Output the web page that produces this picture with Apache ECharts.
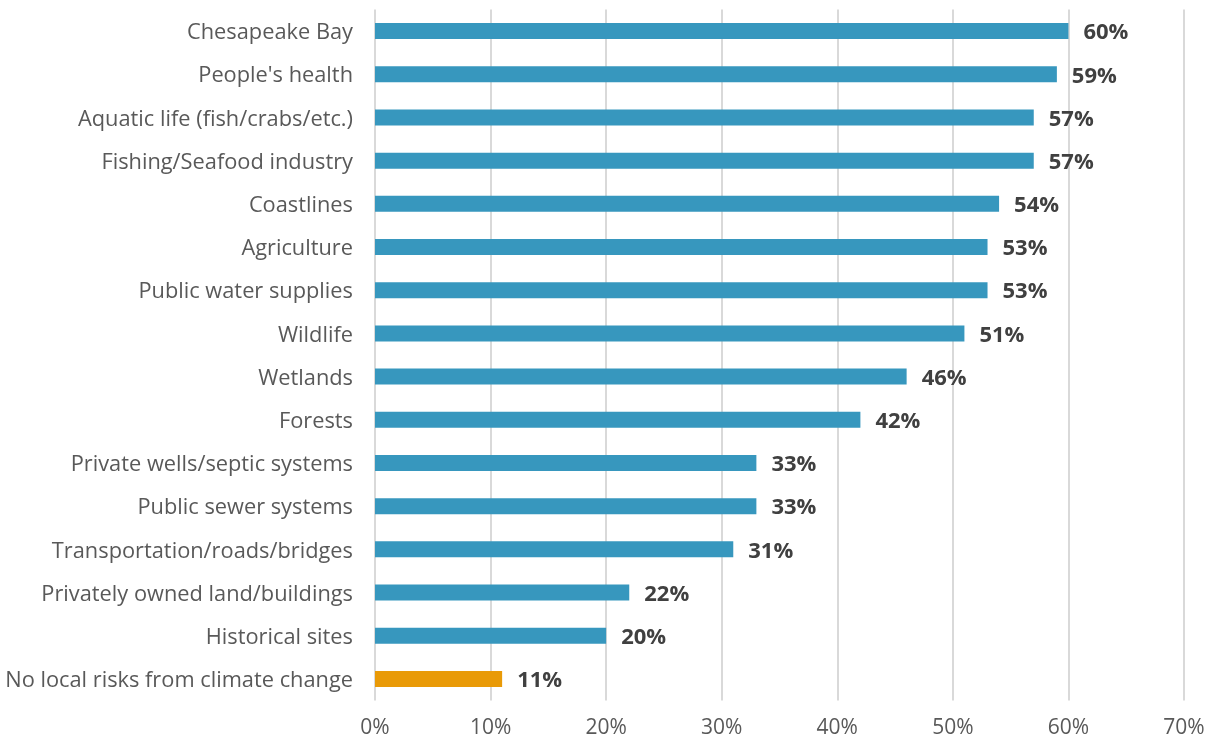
<!DOCTYPE html>
<html>
<head>
<meta charset="utf-8">
<script src="https://cdn.jsdelivr.net/npm/echarts@6/dist/echarts.min.js"></script>
<style>
html,body{margin:0;padding:0;background:#fff;}
#chart{width:1212px;height:740px;}
</style>
</head>
<body>
<div id="chart"></div>
<script>
const categories = [
  "Chesapeake Bay",
  "People's health",
  "Aquatic life (fish/crabs/etc.)",
  "Fishing/Seafood industry",
  "Coastlines",
  "Agriculture",
  "Public water supplies",
  "Wildlife",
  "Wetlands",
  "Forests",
  "Private wells/septic systems",
  "Public sewer systems",
  "Transportation/roads/bridges",
  "Privately owned land/buildings",
  "Historical sites",
  "No local risks from climate change"
];
const values = [60, 59, 57, 57, 54, 53, 53, 51, 46, 42, 33, 33, 31, 22, 20, 11];
const highlightCategory = "No local risks from climate change";
const xTicks = [0, 10, 20, 30, 40, 50, 60, 70];

const BLUE = '#3797BE';
const ORANGE = '#E99A07';
const FONT = '"Open Sans", "Liberation Sans", sans-serif';

const chart = echarts.init(document.getElementById('chart'));
chart.setOption({
  animation: false,
  grid: { left: 375, right: 28, top: 9.5, bottom: 39.5, containLabel: false },
  xAxis: {
    type: 'value',
    min: xTicks[0],
    max: xTicks[xTicks.length - 1],
    interval: 10,
    axisLine: { show: false },
    axisTick: { show: false },
    splitLine: { show: true, lineStyle: { color: '#d9d9d9', width: 2 } },
    axisLabel: {
      formatter: v => v + '%',
      color: '#595959',
      fontSize: 21,
      fontFamily: FONT,
      margin: 17
    }
  },
  yAxis: {
    type: 'category',
    data: categories,
    inverse: true,
    axisLine: { show: false },
    axisTick: { show: false },
    axisLabel: {
      margin: 22,
      formatter: v => '{a|' + v + '}',
      rich: {
        a: {
          color: '#595959',
          fontSize: 21.8,
          fontFamily: FONT,
          padding: [4, 0, 0, 0]
        }
      }
    }
  },
  series: [{
    type: 'bar',
    data: values.map((v, i) => ({
      value: v,
      itemStyle: { color: categories[i] === highlightCategory ? ORANGE : BLUE }
    })),
    barWidth: 16,
    label: {
      show: true,
      position: 'right',
      distance: 15,
      offset: [0, 2],
      formatter: p => p.value + '%',
      color: '#404040',
      fontSize: 22,
      fontWeight: 'bold',
      fontFamily: FONT
    }
  }]
});
</script>
</body>
</html>
